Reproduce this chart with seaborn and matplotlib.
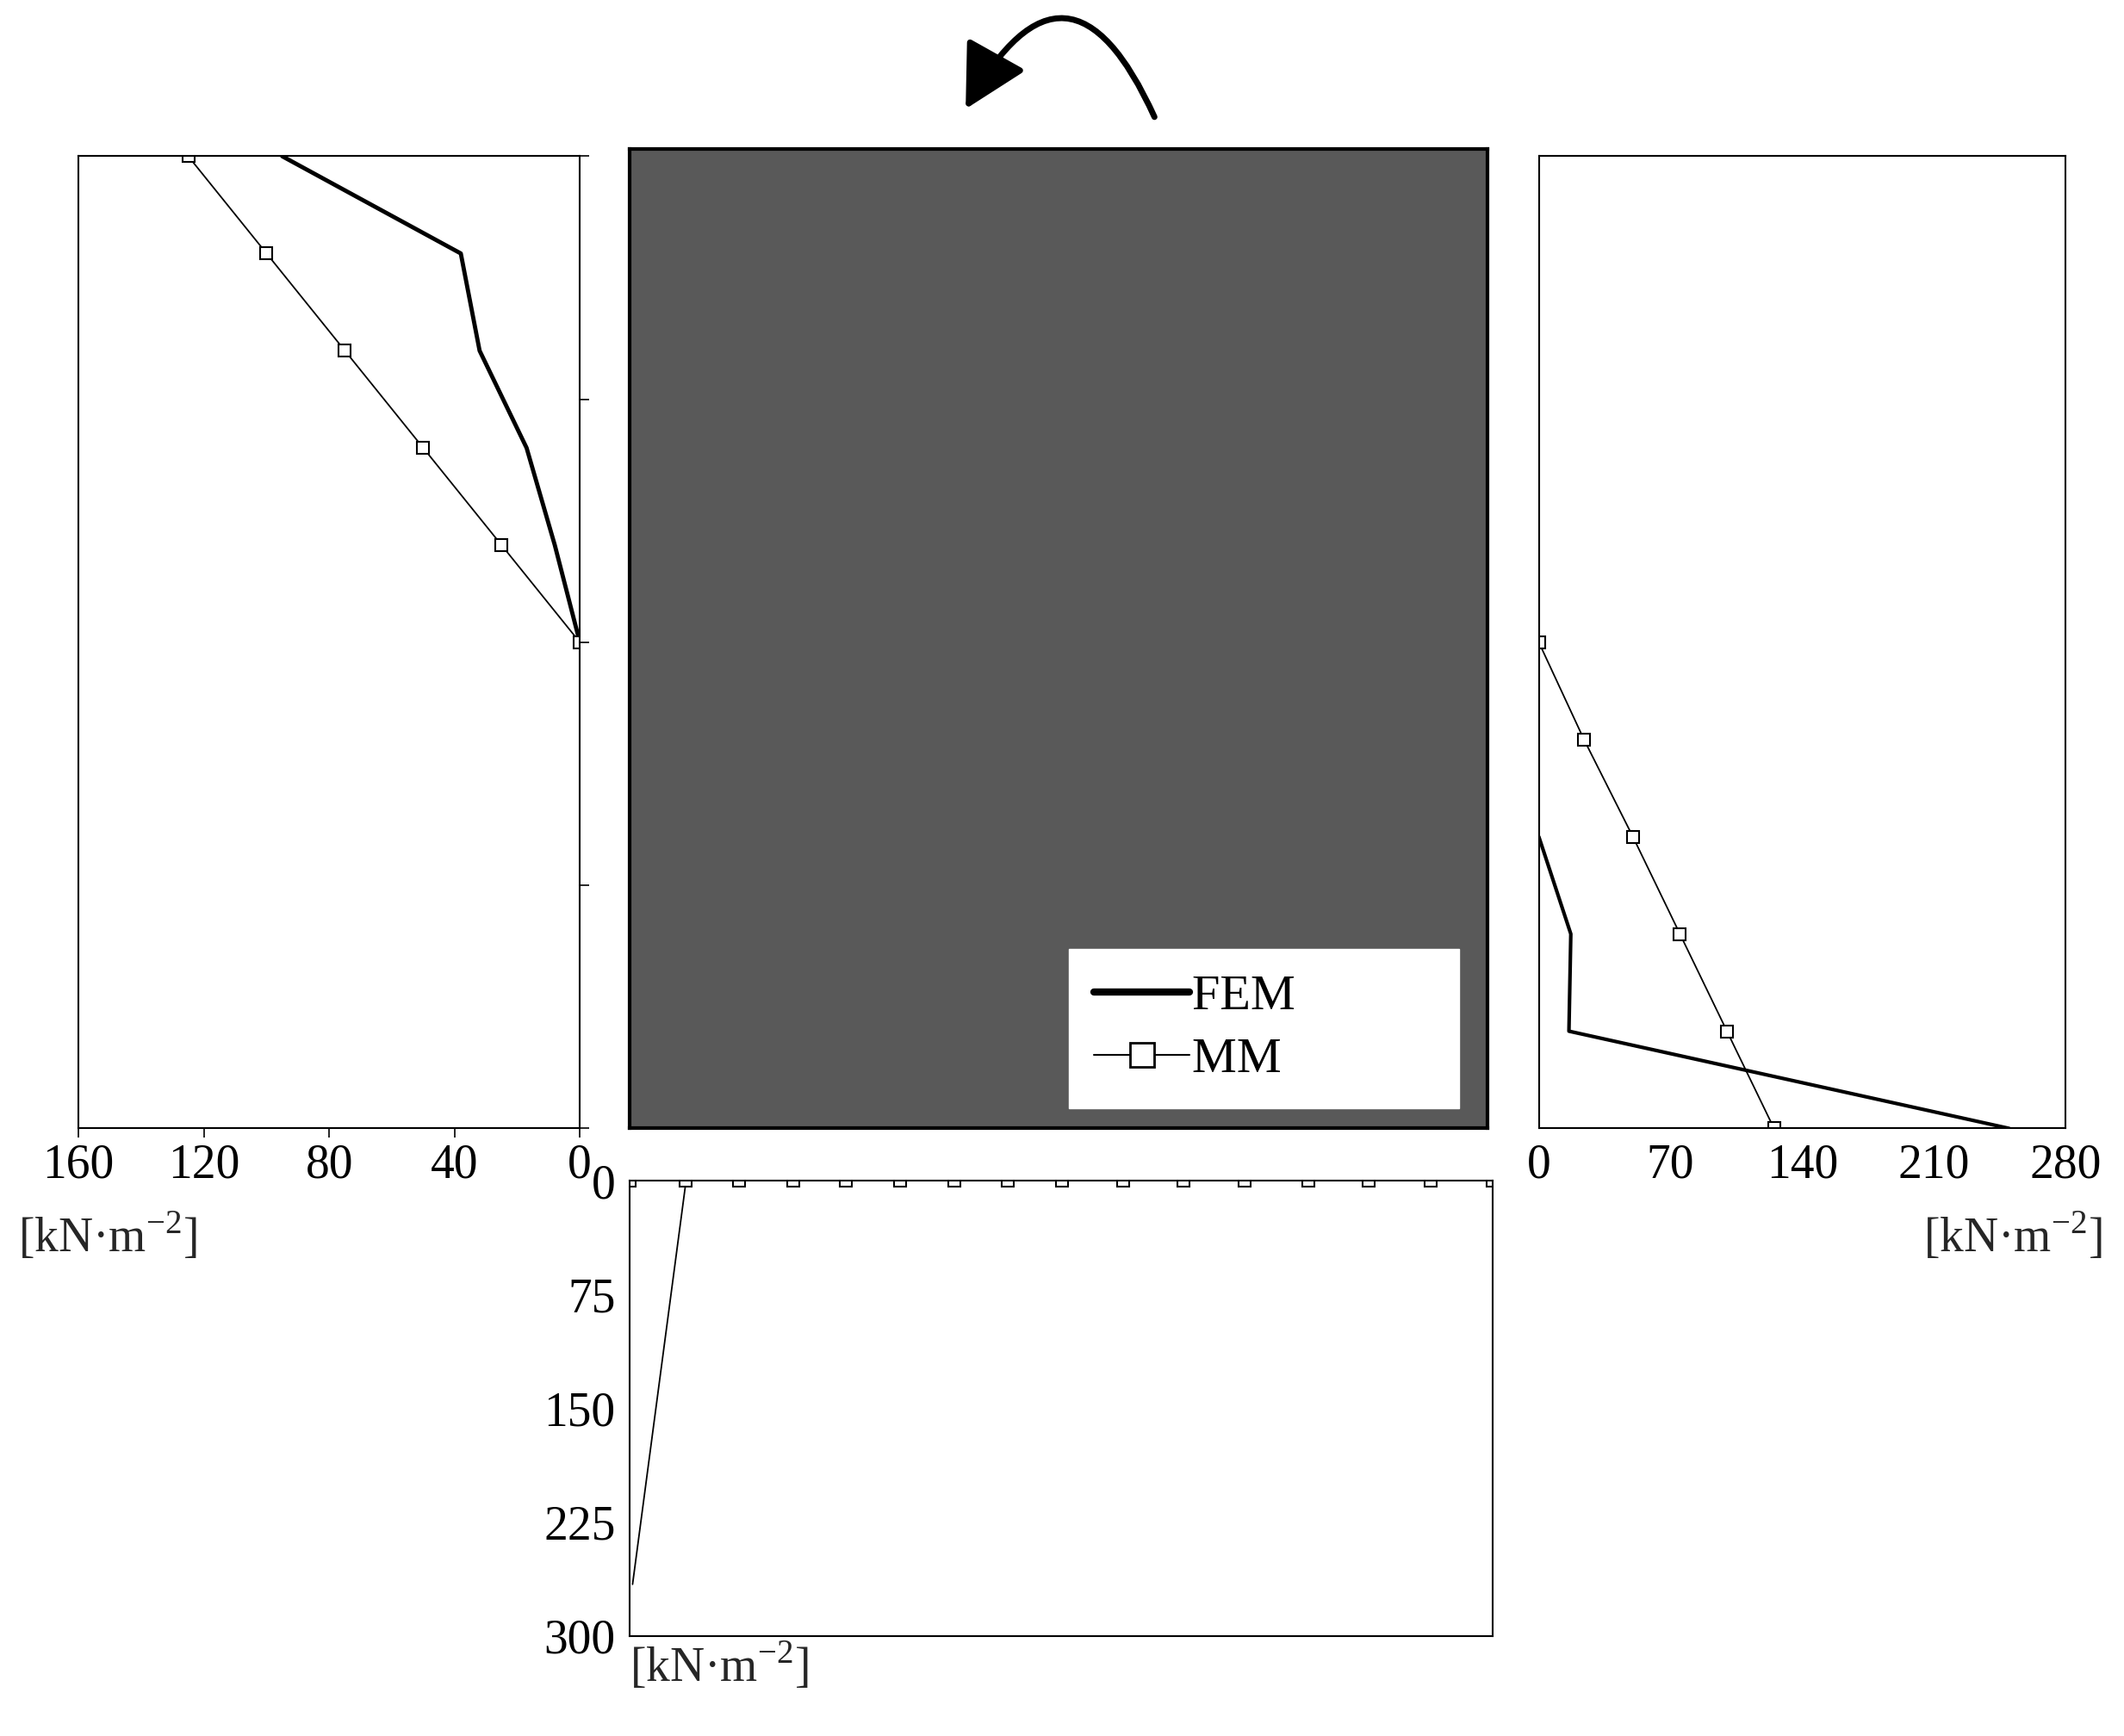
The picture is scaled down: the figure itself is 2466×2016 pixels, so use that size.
import matplotlib
matplotlib.use("Agg")
import matplotlib.pyplot as plt
import seaborn as sns
from matplotlib.patches import FancyArrowPatch
from matplotlib.lines import Line2D

sns.set_theme(style="white")
plt.rcParams['font.family'] = ['Liberation Serif', 'DejaVu Serif']
plt.rcParams['mathtext.fontset'] = 'custom'
plt.rcParams['mathtext.rm'] = 'Liberation Serif'

# Left panel (depth fraction vs stress)
left_mm_depth = [0.0, 0.1, 0.2, 0.3, 0.4, 0.5]
left_mm_val = [125, 100, 75, 50, 25, 0]
left_fem_depth = [0.0, 0.1, 0.2, 0.3, 0.4, 0.5]
left_fem_val = [95, 38, 32, 17, 8, 0]
# Right panel
right_mm_depth = [0.5, 0.6, 0.7, 0.8, 0.9, 1.0]
right_mm_val = [0, 24, 50, 75, 100, 125]
right_fem_depth = [0.7, 0.8, 0.9, 1.0]
right_fem_val = [0, 17, 16, 250]
# Bottom panel
bottom_mm_pos = [0.0, 0.065, 0.126, 0.189, 0.25, 0.313, 0.376, 0.438, 0.501, 0.572,
                 0.642, 0.713, 0.787, 0.857, 0.928, 1.0]
bottom_mm_val = [0]*16
bottom_fem_pos = [0.065, 0.003]
bottom_fem_val = [0, 266]

fig = plt.figure(figsize=(24.66, 20.16), dpi=100)
fs = 40
mk = dict(marker='s', markersize=10, markerfacecolor='white', markeredgecolor='black', markeredgewidth=1.5)

def style(ax):
    for s in ax.spines.values():
        s.set_visible(True); s.set_color('black'); s.set_linewidth(1.5)
    ax.tick_params(labelsize=fs, length=8, width=1.2, color='black', labelcolor='black', direction='out', pad=4)

unit = "[kN·m$^{\\mathregular{-2}}$]"

# Left
axL = fig.add_axes([0.037, 0.350, 0.236, 0.560])
sns.lineplot(x=left_fem_val, y=left_fem_depth, ax=axL, color='black', lw=3.5, sort=False, estimator=None)
sns.lineplot(x=left_mm_val, y=left_mm_depth, ax=axL, color='black', lw=1.3, sort=False, estimator=None, **mk)
axL.set_xlim(160, 0); axL.set_ylim(1, 0)
axL.set_xticks([160, 120, 80, 40, 0]); axL.set_yticks([0, 0.25, 0.5, 0.75, 1.0])
axL.yaxis.tick_right(); axL.set_yticklabels([])
axL.xaxis.set_ticks_position('bottom')
style(axL)
axL.text(-0.12, -0.085, unit, transform=axL.transAxes, fontsize=fs, ha='left', va='top')

# Center
axC = fig.add_axes([0.2966, 0.350, 0.4037, 0.564])
axC.set_facecolor('#595959')
axC.set_xticks([]); axC.set_yticks([])
for s in axC.spines.values():
    s.set_visible(True); s.set_color('black'); s.set_linewidth(3)
handles = [Line2D([], [], color='black', lw=6),
           Line2D([], [], color='black', lw=1.5, marker='s', markersize=20,
                  markerfacecolor='white', markeredgecolor='black', markeredgewidth=2)]
leg = axC.legend(handles, ['FEM', 'MM'], loc='lower right', bbox_to_anchor=(0.967, 0.021),
                 fontsize=fs + 2, frameon=True, fancybox=False, handlelength=1.9,
                 handletextpad=0.05, borderpad=0.5, labelspacing=0.35, framealpha=1,
                 borderaxespad=0)
leg.get_frame().set_facecolor('white'); leg.get_frame().set_edgecolor('white')
for t in leg.get_texts():
    t.set_color('black')
    t.set_text(t.get_text() + "           ")

# Right
axR = fig.add_axes([0.7245, 0.350, 0.248, 0.560])
sns.lineplot(x=right_fem_val, y=right_fem_depth, ax=axR, color='black', lw=3, sort=False, estimator=None)
sns.lineplot(x=right_mm_val, y=right_mm_depth, ax=axR, color='black', lw=1.3, sort=False, estimator=None, **mk)
axR.set_xlim(0, 280); axR.set_ylim(1, 0)
axR.set_xticks([0, 70, 140, 210, 280]); axR.set_yticks([0, 0.25, 0.5, 0.75, 1.0])
axR.set_yticklabels([])
style(axR)
axR.text(1.07, -0.085, unit, transform=axR.transAxes, fontsize=fs, ha='right', va='top')

# Bottom
axB = fig.add_axes([0.2966, 0.0577, 0.406, 0.262])
sns.lineplot(x=bottom_fem_pos, y=bottom_fem_val, ax=axB, color='black', lw=1.3, sort=False, estimator=None)
sns.lineplot(x=bottom_mm_pos, y=bottom_mm_val, ax=axB, color='black', lw=1.3, sort=False, estimator=None, **mk)
axB.set_xlim(0, 1); axB.set_ylim(300, 0)
axB.set_yticks([0, 75, 150, 225, 300]); axB.set_xticks([])
style(axB)
axB.text(0.0, -0.01, unit, transform=axB.transAxes, fontsize=fs, ha='left', va='top')

# Rotation arrow
arr = FancyArrowPatch((853/1568, 1-88/1282), (712/1568, 1-82/1282), transform=fig.transFigure,
                      connectionstyle="arc3,rad=1.0", arrowstyle="-|>,head_length=1.5,head_width=0.8",
                      mutation_scale=30, lw=5, color='black')
fig.patches.append(arr)

fig.savefig("out.png", dpi=100, facecolor='white')
